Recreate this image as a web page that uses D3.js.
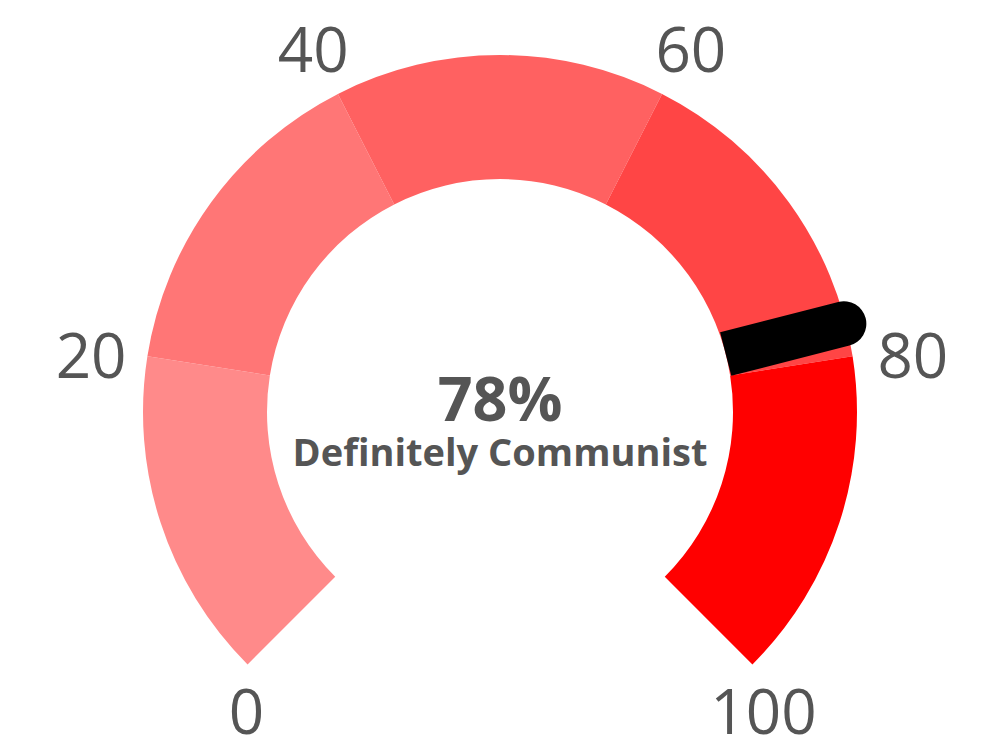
<!DOCTYPE html>
<html>
<head>
<meta charset="utf-8">
<script src="https://cdn.jsdelivr.net/npm/d3@7"></script>
<style>
    html, body { margin: 0; padding: 0; background: #fff; }
    text { font-family: "Open Sans", sans-serif; fill: #555; }
</style>
</head>
<body>
<div id="chart"></div>
<script>
// gauge bands
const bandStarts = [0, 20, 40, 60, 80];
const bandEnds = [20, 40, 60, 80, 100];
const bandColors = ['#ff8a8a', '#ff7676', '#ff6161', '#ff4545', '#ff0000'];
const tickValues = [0, 20, 40, 60, 80, 100];
const tickLabels = ['0', '20', '40', '60', '80', '100'];
const gaugeValue = 78;
const valueText = '78%';
const statusText = 'Definitely Communist';

const width = 1000, height = 753;
const cx = 500, cy = 412;
const outerR = 357, innerR = 233;

const svg = d3.select('#chart').append('svg')
    .attr('width', width)
    .attr('height', height);

const g = svg.append('g').attr('transform', `translate(${cx},${cy})`);

// value -> angle (radians, clockwise from 12 o'clock)
const angle = d3.scaleLinear()
    .domain([0, 100])
    .range([-135 * Math.PI / 180, 135 * Math.PI / 180]);

const arc = d3.arc()
    .innerRadius(innerR)
    .outerRadius(outerR);

// Draw bands
g.selectAll('path.band')
    .data(bandStarts.map((s, i) => ({ start: s, end: bandEnds[i], color: bandColors[i] })))
    .join('path')
    .attr('class', 'band')
    .attr('d', d => arc({ startAngle: angle(d.start), endAngle: angle(d.end) }))
    .attr('fill', d => d.color);

// Needle: butt at inner radius, round tip at outer radius
const a = angle(gaugeValue);
const ux = Math.sin(a), uy = -Math.cos(a);
const px = Math.cos(a), py = Math.sin(a);
const halfW = 22.5;
const tipR = outerR - 2;
const needle = d3.path();
needle.moveTo(innerR * ux - halfW * px, innerR * uy - halfW * py);
needle.lineTo(tipR * ux - halfW * px, tipR * uy - halfW * py);
needle.arc(tipR * ux, tipR * uy, halfW, a + Math.PI, a, false);
needle.lineTo(innerR * ux + halfW * px, innerR * uy + halfW * py);
needle.closePath();

g.append('path')
    .attr('d', needle.toString())
    .attr('fill', '#000');

// Tick labels around the gauge
const labelR = 416;
g.selectAll('text.tick')
    .data(tickValues)
    .join('text')
    .attr('class', 'tick')
    .attr('text-anchor', 'middle')
    .style('font-size', '62px')
    .attr('x', (d, i) => {
        const t = angle(d);
        // end labels sit under the arc tips
        if (i === 0) return outerR * Math.sin(t) - 1;
        if (i === tickValues.length - 1) return outerR * Math.sin(t) + 11;
        return labelR * Math.sin(t) + 2;
    })
    .attr('y', d => {
        const t = angle(d);
        if (Math.abs(t) > Math.PI / 2) return outerR * Math.cos(Math.PI / 4) + 70;
        return -labelR * Math.cos(t) + 31;
    })
    .text((d, i) => tickLabels[i]);

// Center text
g.append('text')
    .attr('text-anchor', 'middle')
    .attr('y', 9)
    .style('font-size', '61px')
    .style('font-weight', 'bold')
    .text(valueText);

g.append('text')
    .attr('text-anchor', 'middle')
    .attr('y', 54)
    .style('font-size', '38px')
    .style('font-weight', 'bold')
    .text(statusText);
</script>
</body>
</html>
